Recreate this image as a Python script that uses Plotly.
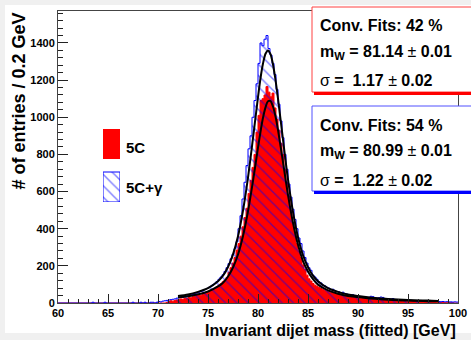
import numpy as np
import plotly.graph_objects as go

# ---------------- data ----------------
bin_start = 60.0
bin_width = 0.2

# 5C histogram, 0.2 GeV bins from 60 to 100 GeV (one row per GeV)
red_counts = [
    0, 0, 0, 0, 0,   0, 0, 0, 0, 0,   0, 0, 0, 0, 0,   0, 0, 0, 0, 0,   0, 0, 0, 0, 0,
    0, 0, 0, 0, 0,   0, 0, 0, 0, 0,   0, 0, 0, 0, 0,   0, 0, 0, 0, 0,   0, 0, 0, 0, 0,
    0, 0, 0, 0, 3,                      # 70
    8, 12, 10, 14, 16,                  # 71
    18, 22, 20, 26, 24,                 # 72
    30, 28, 34, 36, 40,                 # 73
    44, 42, 50, 52, 56,                 # 74
    62, 68, 74, 80, 88,                 # 75
    96, 104, 114, 124, 138,             # 76
    165, 190, 215, 245, 285,            # 77
    320, 360, 410, 460, 510,            # 78
    590, 660, 730, 800, 920,            # 79
    1010, 1090, 1100, 1120, 1165,       # 80
    1135, 1110, 1130, 1050, 990,        # 81
    930, 860, 800, 720, 650,            # 82
    575, 500, 430, 375, 320,            # 83
    280, 245, 205, 180, 150,            # 84
    130, 118, 105, 96, 90,              # 85
    84, 78, 72, 68, 64,                 # 86
    60, 58, 54, 50, 48,                 # 87
    46, 42, 40, 38, 36,                 # 88
    34, 33, 30, 30, 28,                 # 89
    27, 26, 24, 24, 22,                 # 90
    22, 20, 20, 18, 18,                 # 91
    17, 16, 16, 15, 14,                 # 92
    14, 13, 13, 12, 12,                 # 93
    11, 11, 10, 10, 10,                 # 94
    9, 9, 8, 8, 8,                      # 95
    7, 7, 7, 6, 6,                      # 96
    6, 5, 5, 5, 4,                      # 97
    4, 3, 3, 2, 2,                      # 98
    2, 1, 1, 0, 0,                      # 99
]

# 5C+gamma histogram, same binning
blue_counts = [
    0, 0, 0, 0, 0,                      # 60
    0, 0, 0, 0, 0,                      # 61
    0, 0, 0, 0, 0,                      # 62
    0, 0, 4, 0, 0,                      # 63
    0, 0, 0, 4, 0,                      # 64
    0, 0, 0, 0, 0,                      # 65
    0, 0, 0, 0, 0,                      # 66
    0, 0, 4, 0, 0,                      # 67
    0, 4, 0, 4, 0,                      # 68
    0, 4, 4, 0, 4,                      # 69
    8, 6, 10, 12, 14,                   # 70
    16, 18, 20, 22, 26,                 # 71
    28, 32, 30, 36, 38,                 # 72
    40, 44, 46, 50, 54,                 # 73
    58, 62, 66, 72, 78,                 # 74
    84, 90, 98, 106, 116,               # 75
    128, 140, 152, 170, 190,            # 76
    212, 238, 262, 292, 330,            # 77
    400, 470, 560, 650, 740,            # 78
    830, 900, 1000, 1090, 1180,         # 79
    1290, 1400, 1385, 1420, 1440,       # 80
    1370, 1335, 1290, 1230, 1150,       # 81
    1070, 980, 890, 800, 720,           # 82
    640, 570, 505, 450, 400,            # 83
    350, 320, 280, 245, 215,            # 84
    190, 176, 150, 140, 128,            # 85
    112, 108, 96, 92, 84,               # 86
    80, 72, 74, 66, 62,                 # 87
    60, 56, 58, 50, 48,                 # 88
    46, 42, 44, 38, 36,                 # 89
    36, 34, 32, 33, 30,                 # 90
    30, 36, 34, 28, 26,                 # 91
    28, 32, 30, 24, 22,                 # 92
    22, 20, 24, 19, 18,                 # 93
    18, 17, 16, 18, 15,                 # 94
    15, 14, 13, 13, 12,                 # 95
    12, 11, 11, 10, 10,                 # 96
    10, 9, 9, 8, 9,                     # 97
    8, 7, 8, 6, 7,                      # 98
    6, 6, 5, 6, 5,                      # 99
]

# fitted curves (black lines), read at these masses
fit_x = [72, 73, 74, 75, 76, 76.5, 77, 77.5, 78, 78.5, 79, 79.5, 80, 80.25, 80.5,
         80.75, 81, 81.25, 81.5, 81.75, 82, 82.5, 83, 83.5, 84, 84.5, 85, 85.5, 86,
         87, 88, 89, 90, 91, 92, 93, 94, 95, 96, 97, 98]
fit_red = [30, 36, 47, 62, 89, 109, 143, 191, 261, 361, 494, 657, 836, 922, 997,
           1053, 1086, 1087, 1058, 1005, 932, 758, 582, 432, 313, 226, 170, 128, 99,
           68, 50, 38, 32, 25, 21, 18, 15, 13, 12, 10, 9]
fit_blue = [38, 46, 60, 80, 117, 147, 194, 262, 359, 498, 675, 887, 1108, 1210, 1289,
            1342, 1360, 1340, 1284, 1201, 1100, 879, 666, 491, 354, 257, 193, 147, 117,
            80, 60, 46, 38, 31, 26, 22, 19, 16, 14, 13, 11]

x_ticks = [60, 65, 70, 75, 80, 85, 90, 95, 100]
y_ticks = [0, 200, 400, 600, 800, 1000, 1200, 1400]

series_names = ["5C", "5C+γ"]
conv_fits = [42, 54]
m_w = [81.14, 80.99]
m_w_err = [0.01, 0.01]
sigma = [1.17, 1.22]
sigma_err = [0.02, 0.02]

x_title = "Invariant dijet mass (fitted) [GeV]"
y_title = "# of entries / 0.2 GeV"

# ---------------- layout helpers ----------------
W, H = 471, 340
PL, PR, PT, PB = 58, 458, 11, 303   # plot-area pixel box
YMAX = 1572


def px(x):
    return (x - PL) / (PR - PL)


def py(y):
    return (PB - y) / (PB - PT)


FONT = "Liberation Sans, Arial, Helvetica, sans-serif"
RED = "#ff0000"
BLUE = "#0000ff"

edges = bin_start + bin_width * np.arange(len(red_counts) + 1)

fig = go.Figure()

# 5C: solid red histogram
fig.add_trace(go.Scatter(
    x=edges, y=list(red_counts) + [red_counts[-1]],
    mode="lines", line=dict(shape="hv", color=RED, width=1),
    fill="tozeroy", fillcolor=RED, hoverinfo="skip", showlegend=False))

# 5C+gamma: blue hatched histogram
fig.add_trace(go.Scatter(
    x=edges, y=list(blue_counts) + [blue_counts[-1]],
    mode="lines", line=dict(shape="hv", color=BLUE, width=1),
    fill="tozeroy", fillcolor="rgba(0,0,0,0)",
    fillpattern=dict(shape="\\", fgcolor=BLUE, bgcolor="rgba(0,0,0,0)",
                     size=8, solidity=0.18),
    hoverinfo="skip", showlegend=False))

# fits
for fy in (fit_red, fit_blue):
    fig.add_trace(go.Scatter(
        x=fit_x, y=fy, mode="lines",
        line=dict(color="black", width=2, shape="spline", smoothing=0.8),
        hoverinfo="skip", showlegend=False))

# legend swatches (on an invisible inset axis)
fig.add_trace(go.Bar(x=[0.5], y=[30], base=[43], width=[1], xaxis="x2", yaxis="y2",
                     marker=dict(color=RED, line=dict(width=0)),
                     hoverinfo="skip", showlegend=False))
fig.add_trace(go.Bar(x=[0.5], y=[30], base=[0], width=[1], xaxis="x2", yaxis="y2",
                     marker=dict(color="rgba(0,0,0,0)",
                                 line=dict(color=BLUE, width=1),
                                 pattern=dict(shape="\\", fgcolor=BLUE,
                                              bgcolor="rgba(0,0,0,0)",
                                              size=8, solidity=0.18)),
                     hoverinfo="skip", showlegend=False))

tickfont = dict(family=FONT, size=11, color="black")

fig.update_layout(
    width=W, height=H, autosize=False,
    margin=dict(l=PL, r=W - PR, t=PT, b=H - PB, pad=0, autoexpand=False),
    paper_bgcolor="#f0f0f0", plot_bgcolor="white",
    barmode="overlay",
    xaxis=dict(range=[60, 100], tickvals=x_ticks,
               ticktext=[f"<b>{t}</b>" for t in x_ticks],
               ticks="inside", ticklen=9,
               tickcolor="#222", tickwidth=1, showgrid=False, zeroline=False,
               showline=True, linecolor="#444", linewidth=1, mirror=True,
               tickfont=tickfont, automargin=False,
               minor=dict(dtick=1, ticks="inside", ticklen=4, tickcolor="#222")),
    yaxis=dict(range=[0, YMAX], tickvals=y_ticks,
               ticktext=[f"<b>{t}</b>" for t in y_ticks],
               ticks="inside", ticklen=10,
               tickcolor="#222", tickwidth=1, showgrid=False, zeroline=False,
               showline=True, linecolor="#444", linewidth=1, mirror=True,
               tickfont=tickfont, automargin=False,
               minor=dict(dtick=40, ticks="inside", ticklen=5, tickcolor="#222")),
    xaxis2=dict(domain=[px(103), px(120)], range=[0, 1], anchor="y2",
                visible=False, fixedrange=True),
    yaxis2=dict(domain=[py(202), py(129)], range=[0, 73], anchor="x2",
                visible=False, fixedrange=True),
    showlegend=False,
)

shapes = [
    # white pad on grey canvas
    dict(type="rect", xref="paper", yref="paper", x0=px(5), x1=px(490),
         y0=py(333), y1=py(5), fillcolor="white", line=dict(width=0), layer="below"),
]
annotations = [
    dict(text=f"<b>{x_title}</b>", xref="paper", yref="paper", x=px(458), y=py(330),
         xanchor="right", yanchor="middle", showarrow=False,
         font=dict(family=FONT, size=16, color="black")),
    dict(text=f"<b>{y_title}</b>", xref="paper", yref="paper", x=px(18), y=py(11),
         xanchor="center", yanchor="top", textangle=-90, showarrow=False,
         font=dict(family=FONT, size=18, color="black")),
]

# legend labels
for name, ly in zip(series_names, [147, 187]):
    annotations.append(dict(text=f"<b>{name}</b>", xref="paper", yref="paper",
                            x=px(124), y=py(ly),
                            xanchor="left", yanchor="middle", showarrow=False,
                            font=dict(family=FONT, size=15, color="black")))

# stat boxes
box_tops = [7, 106]
box_colors = [("#ff4040", RED), ("#5050ff", BLUE)]
for i, top in enumerate(box_tops):
    bottom = top + 85
    border, shadow = box_colors[i]
    shapes.append(dict(type="rect", xref="paper", yref="paper",
                       x0=px(312), x1=px(490), y0=py(bottom), y1=py(top),
                       fillcolor="white", line=dict(color=border, width=1), layer="above"))
    shapes.append(dict(type="line", xref="paper", yref="paper",
                       x0=px(314), x1=px(490), y0=py(bottom + 1.5), y1=py(bottom + 1.5),
                       line=dict(color=shadow, width=3), layer="above"))
    lines = [
        (f"<b>Conv. Fits: {conv_fits[i]} %</b>", top + 19),
        (f"<b>m<sub>W</sub> = {m_w[i]:.2f} </b>±<b> {m_w_err[i]:.2f}</b>", top + 45),
        (f"σ<b> =&nbsp; {sigma[i]:.2f} </b>±<b> {sigma_err[i]:.2f}</b>", top + 74),
    ]
    for txt, ty in lines:
        annotations.append(dict(text=txt, xref="paper", yref="paper", x=px(318), y=py(ty),
                                xanchor="left", yanchor="middle", showarrow=False,
                                font=dict(family=FONT, size=16, color="black")))

fig.update_layout(shapes=shapes, annotations=annotations)
fig.write_html(
    "out.html",
    config={"displayModeBar": False},
    post_script="document.body.style.margin='0';document.body.style.overflow='hidden';",
)
